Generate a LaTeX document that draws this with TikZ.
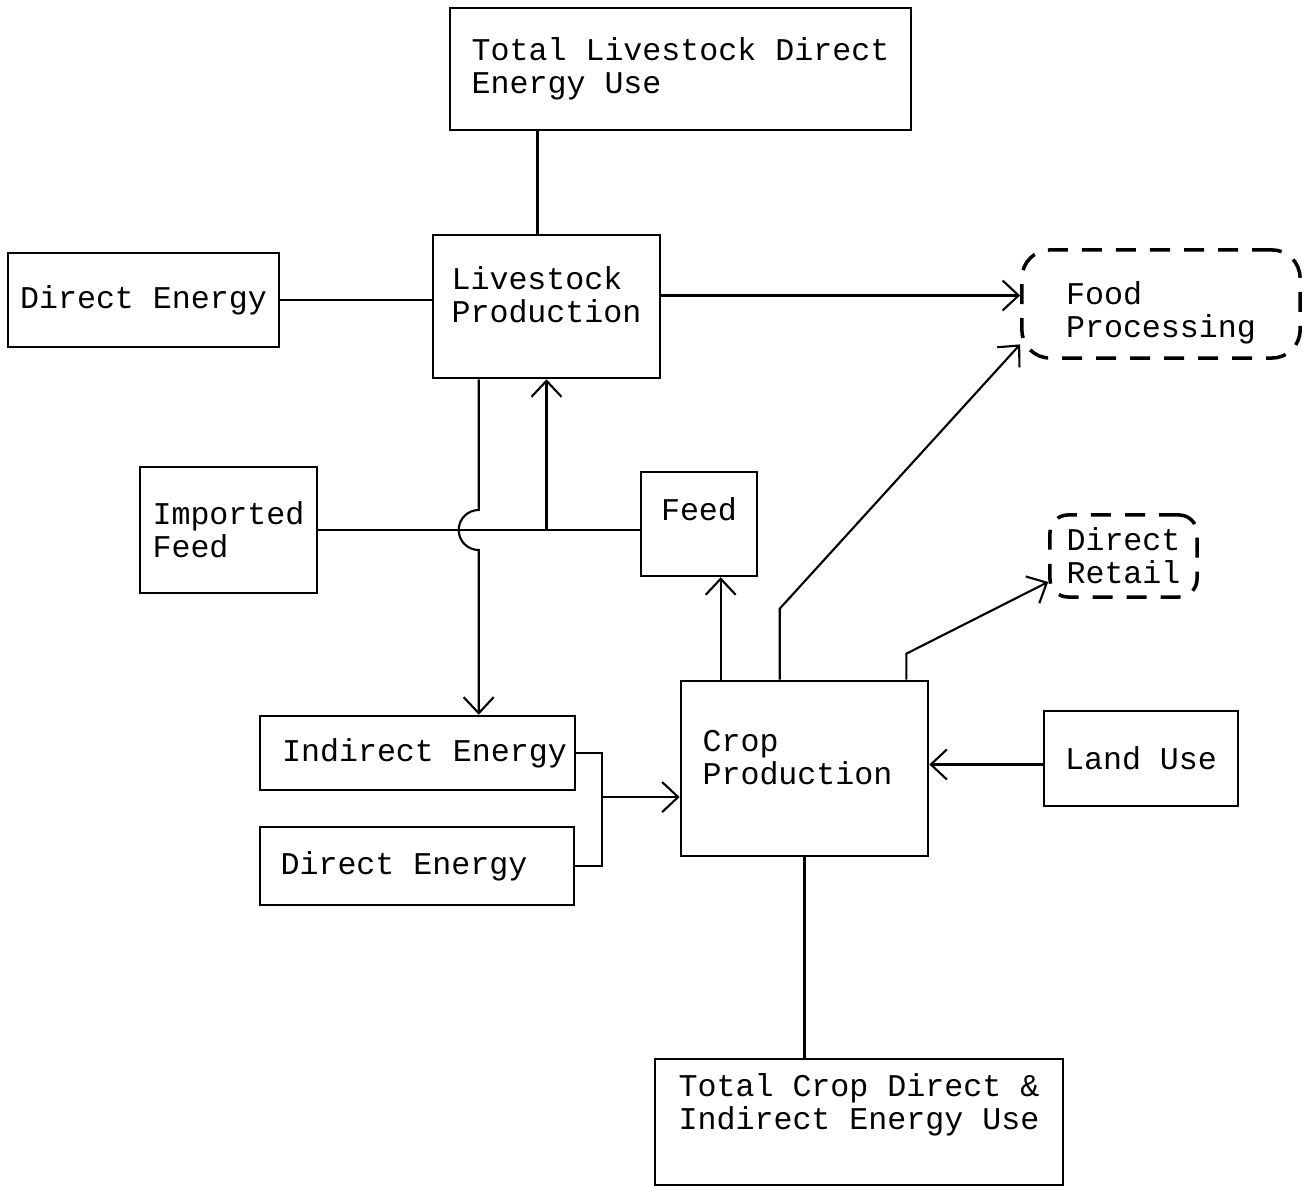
\documentclass[tikz,border=0pt]{standalone}
\usepackage{fontspec}
\setmonofont{Liberation Mono}
\usepackage{tikz}
\usetikzlibrary{arrows.meta,calc}
\tikzstyle{box} = [draw,line width=0.7pt,align=left,inner sep=0pt,font=\ttfamily\fontsize{9}{9.4}\selectfont]
\tikzstyle{outlet} = [box,line width=1pt,dash pattern=on 2mm off 1.4mm,rounded corners=0.28cm]
\tikzstyle{flow} = [->,>={Straight Barb[length=1.6mm,width=3mm]}]

\begin{document}
\begin{tikzpicture}[x=0.01cm,y=-0.01cm,line width=0.6pt]
\useasboundingbox (0,0) rectangle (1308,1186);

% livestock side
\node[box,minimum width=4.61cm,minimum height=1.22cm] (lvtotal) at (680.5,69) {Total Livestock Direct\\Energy Use};
\node[box,minimum width=2.71cm,minimum height=0.94cm] (dirtop) at (143.5,300) {Direct Energy};
\node[box,minimum width=2.27cm,minimum height=1.43cm,text depth=0.24cm] (lvprod) at (546.5,306.5) {Livestock\\Production};
\node[outlet,minimum width=2.78cm,minimum height=1.08cm,text height=0.73cm] (food) at (1161,304) {Food\\Processing};
\node[box,minimum width=1.77cm,minimum height=1.26cm] (imp) at (228.5,530) {Imported\\Feed};
\node[box,minimum width=1.16cm,minimum height=1.04cm,text depth=0.3cm] (feed) at (699,524) {Feed};

% crop side
\node[outlet,minimum width=1.47cm,minimum height=0.82cm,rounded corners=0.18cm] (retail) at (1123.5,556) {Direct\\Retail};
\node[box,minimum width=3.15cm,minimum height=0.74cm] (ind) at (417.5,753) {\hspace*{0.14cm}Indirect Energy};
\node[box,minimum width=3.14cm,minimum height=0.78cm] (dirbot) at (417,866) {Direct Energy\hspace*{0.26cm}};
\node[box,minimum width=2.47cm,minimum height=1.75cm,text depth=0.22cm] (crop) at (804.5,768.5) {Crop\\Production\hspace*{0.14cm}};
\node[box,minimum width=1.94cm,minimum height=0.95cm] (land) at (1141,758.5) {Land Use};
\node[box,minimum width=4.08cm,minimum height=1.26cm,text depth=0.41cm] (croptotal) at (859,1122) {Total Crop Direct \&\\Indirect Energy Use};

\coordinate (lvx) at ($(lvprod.south west)+(47,0)$);
\coordinate (hop) at (imp.east -| lvx);
\coordinate (cf) at ($(crop.north west)+(41,0)$);
\coordinate (cfood) at ($(crop.north west)+(100,0)$);
\coordinate (cret) at ($(crop.north east)+(-23,0)$);
\coordinate (bx) at ($(ind.east)+(26,0)$);
\coordinate (bmid) at ($(bx)!0.39!(bx |- dirbot.east)$);
\coordinate (lvtop) at ($(lvprod.north)+(-9,0)$);
\coordinate (lvout) at ($(lvprod.east)+(0,-11)$);
\coordinate (landin) at ($(land.west)+(0,6)$);

\draw (lvtop) -- (lvtop |- lvtotal.south);
\draw (dirtop.east) -- (dirtop.east -| lvprod.west);
\draw[flow] (lvout) -- (lvout -| food.west);
\draw (imp.east) -- (imp.east -| feed.west);
\draw[flow] (imp.east -| lvprod.south) -- (lvprod.south);
\draw[flow] (lvx) -- ($(hop)+(0,-20)$) arc[start angle=90,end angle=270,radius=0.2cm] -- (hop |- ind.north);
\draw[flow] (cf) -- (cf |- feed.south);
\draw[flow] (cfood) -- ++(0,-71) -- (food.196);
\draw[flow] (cret) -- ++(0,-26) -- (retail.199);
\draw (ind.east) -- (bx) |- (dirbot.east);
\draw[flow] (bmid) -- (bmid -| crop.west);
\draw[flow] (landin) -- (landin -| crop.east);
\draw (crop.south) -- (crop.south |- croptotal.north);
\end{tikzpicture}
\end{document}
